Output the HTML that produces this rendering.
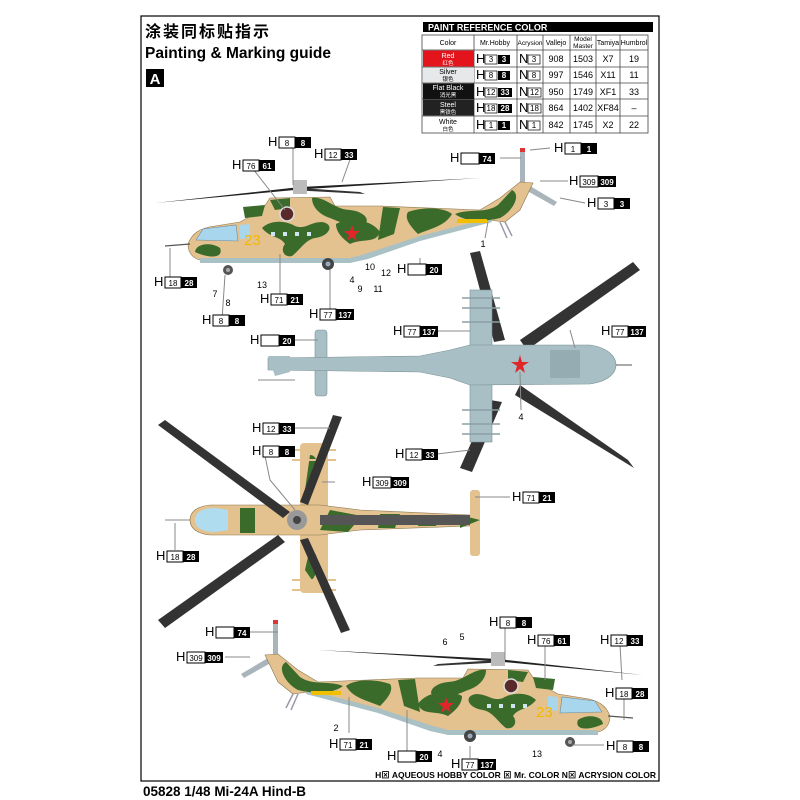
<!DOCTYPE html>
<html><head><meta charset="utf-8"><style>
html,body{margin:0;padding:0;background:#fff;}
svg{display:block;font-family:"Liberation Sans","Noto Sans CJK SC",sans-serif;}
.h{font-size:13px;fill:#000}
.n{font-size:8px;text-anchor:middle}
.w{font-size:8px;fill:#fff;text-anchor:middle;font-weight:bold}
.num{font-size:9px;text-anchor:middle}
.ld{stroke:#888;stroke-width:1;fill:none}
.tb{font-size:9px;text-anchor:middle}
</style></head><body>
<svg width="800" height="800" viewBox="0 0 800 800" xmlns="http://www.w3.org/2000/svg">
<rect x="141" y="16" width="518" height="765" fill="none" stroke="#000" stroke-width="1.2"/>
<text x="145" y="37" font-size="16" font-weight="bold" font-family="'Noto Sans CJK SC',sans-serif" letter-spacing="2">涂装同标贴指示</text>
<text x="145" y="58" font-size="15.5" font-weight="bold">Painting &amp; Marking guide</text>
<rect x="146" y="69" width="18" height="18" fill="#000"/>
<text x="155" y="84" font-size="15" font-weight="bold" fill="#fff" text-anchor="middle">A</text>

<!-- table -->
<rect x="423" y="22" width="230" height="10" fill="#000"/>
<text x="428" y="30.5" font-size="9" font-weight="bold" fill="#fff">PAINT  REFERENCE COLOR</text>
<g stroke="#444" stroke-width="0.8" fill="none">
<rect x="422" y="35" width="226" height="98"/>
<line x1="422" y1="50" x2="648" y2="50"/><line x1="422" y1="67" x2="648" y2="67"/><line x1="422" y1="83" x2="648" y2="83"/><line x1="422" y1="99" x2="648" y2="99"/><line x1="422" y1="116" x2="648" y2="116"/>
<line x1="474" y1="35" x2="474" y2="133"/><line x1="517" y1="35" x2="517" y2="133"/><line x1="543" y1="35" x2="543" y2="133"/><line x1="570" y1="35" x2="570" y2="133"/><line x1="596" y1="35" x2="596" y2="133"/><line x1="620" y1="35" x2="620" y2="133"/>
</g>
<rect x="423" y="50.5" width="51" height="16" fill="#e3141b"/>
<rect x="423" y="67.5" width="51" height="15" fill="#e6e8ea"/>
<rect x="423" y="83.5" width="51" height="15.5" fill="#111"/>
<rect x="423" y="99.5" width="51" height="16" fill="#222"/>
<g class="tb" font-size="7">
<text x="448" y="45" font-size="7">Color</text><text x="495" y="45" font-size="7">Mr.Hobby</text><text x="530" y="45" font-size="6.5">Acrysion</text><text x="556" y="45" font-size="7">Vallejo</text><text x="583" y="41" font-size="6.5">Model</text><text x="583" y="48" font-size="6.5">Master</text><text x="608" y="45" font-size="7">Tamiya</text><text x="634" y="45" font-size="7">Humbrol</text>
<text x="448" y="58" fill="#fff" font-size="7">Red</text><text x="448" y="65" fill="#fff" font-size="5.5">红色</text>
<text x="448" y="74" font-size="7">Silver</text><text x="448" y="81" font-size="5.5">银色</text>
<text x="448" y="90" fill="#fff" font-size="7">Flat Black</text><text x="448" y="97" fill="#fff" font-size="5.5">消光黑</text>
<text x="448" y="107" fill="#fff" font-size="7">Steel</text><text x="448" y="114" fill="#fff" font-size="5.5">黑铁色</text>
<text x="448" y="124" font-size="7">White</text><text x="448" y="131" font-size="5.5">白色</text>
</g>
<g font-size="9" text-anchor="middle">
<text x="556" y="62">908</text><text x="583" y="62">1503</text><text x="608" y="62">X7</text><text x="634" y="62">19</text>
<text x="556" y="78">997</text><text x="583" y="78">1546</text><text x="608" y="78">X11</text><text x="634" y="78">11</text>
<text x="556" y="95">950</text><text x="583" y="95">1749</text><text x="608" y="95">XF1</text><text x="634" y="95">33</text>
<text x="556" y="111">864</text><text x="583" y="111">1402</text><text x="608" y="111">XF84</text><text x="634" y="111">–</text>
<text x="556" y="128">842</text><text x="583" y="128">1745</text><text x="608" y="128">X2</text><text x="634" y="128">22</text>
</g>
<g font-size="11">
<g transform="translate(476,63)"><text class="h" font-size="11">H</text><rect x="9" y="-8" width="12" height="9" fill="#fff" stroke="#000" stroke-width=".7"/><text x="15" y="-1" class="n" font-size="7">3</text><rect x="22" y="-8" width="12" height="9"/><text x="28" y="-1" class="w" font-size="7">3</text></g>
<g transform="translate(476,79)"><text class="h" font-size="11">H</text><rect x="9" y="-8" width="12" height="9" fill="#fff" stroke="#000" stroke-width=".7"/><text x="15" y="-1" class="n" font-size="7">8</text><rect x="22" y="-8" width="12" height="9"/><text x="28" y="-1" class="w" font-size="7">8</text></g>
<g transform="translate(476,96)"><text class="h" font-size="11">H</text><rect x="9" y="-8" width="12" height="9" fill="#fff" stroke="#000" stroke-width=".7"/><text x="15" y="-1" class="n" font-size="7">12</text><rect x="22" y="-8" width="14" height="9"/><text x="29" y="-1" class="w" font-size="7">33</text></g>
<g transform="translate(476,112)"><text class="h" font-size="11">H</text><rect x="9" y="-8" width="12" height="9" fill="#fff" stroke="#000" stroke-width=".7"/><text x="15" y="-1" class="n" font-size="7">18</text><rect x="22" y="-8" width="14" height="9"/><text x="29" y="-1" class="w" font-size="7">28</text></g>
<g transform="translate(476,129)"><text class="h" font-size="11">H</text><rect x="9" y="-8" width="12" height="9" fill="#fff" stroke="#000" stroke-width=".7"/><text x="15" y="-1" class="n" font-size="7">1</text><rect x="22" y="-8" width="12" height="9"/><text x="28" y="-1" class="w" font-size="7">1</text></g>
<g transform="translate(519,63)"><text class="h" font-size="11">N</text><rect x="9" y="-8" width="12" height="9" fill="#fff" stroke="#000" stroke-width=".7"/><text x="15" y="-1" class="n" font-size="7">3</text></g>
<g transform="translate(519,79)"><text class="h" font-size="11">N</text><rect x="9" y="-8" width="12" height="9" fill="#fff" stroke="#000" stroke-width=".7"/><text x="15" y="-1" class="n" font-size="7">8</text></g>
<g transform="translate(519,96)"><text class="h" font-size="11">N</text><rect x="9" y="-8" width="13" height="9" fill="#fff" stroke="#000" stroke-width=".7"/><text x="15.5" y="-1" class="n" font-size="7">12</text></g>
<g transform="translate(519,112)"><text class="h" font-size="11">N</text><rect x="9" y="-8" width="13" height="9" fill="#fff" stroke="#000" stroke-width=".7"/><text x="15.5" y="-1" class="n" font-size="7">18</text></g>
<g transform="translate(519,129)"><text class="h" font-size="11">N</text><rect x="9" y="-8" width="12" height="9" fill="#fff" stroke="#000" stroke-width=".7"/><text x="15" y="-1" class="n" font-size="7">1</text></g>
</g>

<defs>
<g id="side">
  <path d="M155,203 L300,187 L480,178 L300,189.5 Z" fill="#222"/>
  <path d="M300,188 L360,192 L365,194 L300,190.5 Z" fill="#333"/>
  <rect x="293" y="180" width="14" height="14" fill="#bbb"/>
  <rect x="520" y="148" width="5" height="40" fill="#aab4bb"/>
  <rect x="520" y="148" width="5" height="4" fill="#d33"/>
  <path d="M525,183 L557,202 L554,206 L522,188 Z" fill="#aab4bb"/>
  <path d="M188,244 C192,233 200,228 215,226 L240,222 L262,210 L270,198 L330,197 L335,206 L380,206 L480,210 L500,198 L520,182 L533,183 L520,210 L505,222 L490,220 L420,238 L365,256 L350,260 L200,260 C192,258 188,252 188,244 Z" fill="#e3c28f" stroke="#8a7650" stroke-width="0.6"/>
  <path d="M200,258 L350,258 L365,254 L420,236 L490,218 L492,222 L420,241 L368,259 L350,263 L200,263 Z" fill="#a9c0c4"/>
  <path d="M262,228 C270,220 285,220 295,226 C305,230 310,222 322,222 C335,224 330,236 315,238 C305,240 300,250 292,256 C284,258 280,250 285,244 C280,236 270,238 262,228 Z" fill="#3a6b2b"/>
  <path d="M312,198 C325,196 335,210 350,210 C368,212 372,224 360,226 C348,226 340,222 330,218 C318,214 312,206 312,198 Z" fill="#3a6b2b"/>
  <path d="M336,224 C350,216 372,220 380,232 C376,244 362,238 350,244 C342,238 336,232 336,224 Z" fill="#3a6b2b"/>
  <path d="M383,207 L400,208 L394,234 L378,240 Z" fill="#3a6b2b"/>
  <path d="M408,212 C425,206 445,208 452,214 C445,226 432,228 418,234 C410,226 404,218 408,212 Z" fill="#3a6b2b"/>
  <path d="M455,214 C470,208 485,214 498,205 L512,190 C522,195 512,212 500,218 C485,222 465,222 455,214 Z" fill="#3a6b2b"/>
  <path d="M243,207 L265,205 L262,216 L245,218 Z" fill="#3a6b2b"/>
  <path d="M195,252 C196,243 212,242 220,248 C224,258 210,259 195,252 Z" fill="#3a6b2b"/>
  <path d="M270,200 L290,198 L290,208 L275,210 Z" fill="#3a6b2b"/>
  <path d="M196,240 L203,229 L236,225 L238,241 Z" fill="#a8d6ec" stroke="#6a8aa0" stroke-width=".6"/>
  <path d="M240,225 L250,224 L250,238 L240,239 Z" fill="#a8d6ec"/>
  <circle cx="287" cy="214" r="7" fill="#5a2a2a" stroke="#ddd" stroke-width="1.5"/>
  <g fill="#cfe6f0"><rect x="271" y="232" width="4" height="4"/><rect x="283" y="232" width="4" height="4"/><rect x="295" y="232" width="4" height="4"/><rect x="307" y="232" width="4" height="4"/></g>
  <path d="M352,225 L354,231 L360,231 L355,235 L357,241 L352,237 L347,241 L349,235 L344,231 L350,231 Z" fill="#e0262a"/>
  <rect x="457" y="219" width="30" height="4" fill="#f0c000"/>
  <circle cx="228" cy="270" r="5" fill="#555"/><circle cx="228" cy="270" r="2" fill="#aaa"/>
  <circle cx="328" cy="264" r="6" fill="#444"/><circle cx="328" cy="264" r="2.5" fill="#9ab"/>
  <path d="M500,222 L507,238 M505,222 L512,236" stroke="#99a" stroke-width="1.5"/>
  <line x1="165" y1="246" x2="190" y2="244" stroke="#555" stroke-width="1.2"/>
</g>
</defs>

<use href="#side"/>
<use href="#side" transform="translate(798,472) scale(-1,1)"/>
<text x="244" y="245" font-size="15" fill="#f2b800">23</text>
<text x="536" y="717" font-size="15" fill="#f2b800">23</text>

<!-- grey top view -->
<g>
  <path d="M470,253 L480,251 L505,340 L494,342 Z" fill="#333"/>
  <path d="M520,340 L633,262 L640,270 L527,350 Z" fill="#333"/>
  <path d="M520,385 L628,460 L634,468 L515,395 Z" fill="#333"/>
  <path d="M490,400 L502,402 L472,472 L460,468 Z" fill="#333"/>
  <rect x="470" y="290" width="22" height="152" fill="#a8c0c5" stroke="#7a9095" stroke-width=".6"/>
  <g stroke="#8aa0a6" stroke-width="1.5"><line x1="462" y1="298" x2="500" y2="298"/><line x1="462" y1="308" x2="500" y2="308"/><line x1="462" y1="322" x2="500" y2="322"/><line x1="462" y1="410" x2="500" y2="410"/><line x1="462" y1="424" x2="500" y2="424"/><line x1="462" y1="434" x2="500" y2="434"/></g>
  <rect x="315" y="330" width="12" height="66" rx="3" fill="#a8c0c5" stroke="#7a9095" stroke-width=".6"/>
  <path d="M268,358 L420,356 L450,350 L470,345 L590,345 C610,348 616,358 616,365 C616,372 610,381 590,384 L470,385 L450,378 L420,372 L268,370 Z" fill="#a8c0c5" stroke="#7a9095" stroke-width=".6"/>
  <path d="M268,356 L290,356 L290,372 L275,376 Z" fill="#a8c0c5"/>
  <rect x="550" y="350" width="30" height="28" fill="#95adb2"/>
  <path d="M520,355 L522,362 L529,362 L523,366 L525,373 L520,369 L515,373 L517,366 L511,362 L518,362 Z" fill="#e0262a"/>
  <line x1="616" y1="365" x2="632" y2="365" stroke="#555"/>
  <line x1="258" y1="380" x2="295" y2="380" stroke="#888"/>
</g>

<!-- camo top view -->
<g>
  <rect x="300" y="443" width="28" height="150" rx="4" fill="#e3c28f"/>
  <path d="M310,455 C320,455 320,475 312,492 L305,490 Z" fill="#3a6b2b"/>
  <path d="M310,548 C320,555 320,570 312,580 L305,570 Z" fill="#3a6b2b"/>
  <g stroke="#e3c28f" stroke-width="2"><line x1="292" y1="450" x2="336" y2="450"/><line x1="292" y1="460" x2="336" y2="460"/><line x1="292" y1="580" x2="336" y2="580"/><line x1="292" y1="590" x2="336" y2="590"/></g>
  <path d="M190,520 C190,510 200,506 210,505 L320,505 L360,510 L470,515 L470,526 L360,530 L320,535 L210,535 C200,534 190,530 190,520 Z" fill="#e3c28f" stroke="#8a7650" stroke-width=".6"/>
  <path d="M195,520 C195,512 203,508 215,508 L228,510 L228,530 L215,532 C203,532 195,528 195,520 Z" fill="#b0dcef"/>
  <path d="M240,508 L255,508 L255,533 L240,533 Z" fill="#3a6b2b"/>
  <path d="M330,510 L362,516 L348,532 L320,530 Z" fill="#3a6b2b"/>
  <path d="M380,514 L400,514 L395,528 L378,528 Z" fill="#3a6b2b"/>
  <path d="M420,516 L440,516 L436,526 L418,526 Z" fill="#3a6b2b"/>
  <rect x="470" y="490" width="10" height="66" rx="3" fill="#e3c28f"/>
  <path d="M460,515 L480,520 L460,528 Z" fill="#3a6b2b"/>
  <rect x="320" y="515" width="150" height="10" fill="#555"/>
  <path d="M158,425 L165,420 L290,512 L283,518 Z" fill="#333"/>
  <path d="M333,415 L342,417 L308,505 L300,502 Z" fill="#333"/>
  <path d="M165,628 L158,620 L278,535 L285,542 Z" fill="#333"/>
  <path d="M300,540 L308,538 L350,630 L341,633 Z" fill="#333"/>
  <circle cx="297" cy="520" r="10" fill="#999"/><circle cx="297" cy="520" r="4" fill="#444"/>
  <line x1="165" y1="520" x2="190" y2="520" stroke="#888"/>
</g>

<g class="ld">
<path d="M293,141 L293,185"/><path d="M250,165 L285,210"/><path d="M352,154 L342,182"/><path d="M170,281 L170,248"/><path d="M280,299 L280,254"/><path d="M222,320 L225,275"/><path d="M330,314 L330,270"/><path d="M420,269 L420,258"/><path d="M500,158 L521,158"/><path d="M530,150 L550,148"/><path d="M540,181 L568,181"/><path d="M560,198 L585,203"/><path d="M485,238 L488,222"/>
<path d="M293,340 L318,340"/><path d="M435,331 L470,331"/><path d="M570,330 L575,348"/><path d="M521,410 L520,372"/><path d="M437,454 L470,450"/>
<path d="M293,428 L330,428"/><path d="M265,456 L270,480 L295,510"/><path d="M335,482 L322,482"/><path d="M475,497 L510,497"/><path d="M175,550 L175,523"/>
<path d="M245,632 L278,632"/><path d="M225,657 L250,657"/><path d="M505,626 L505,660"/><path d="M545,645 L545,680"/><path d="M620,645 L622,680"/><path d="M624,697 L624,720"/><path d="M572,745 L604,745"/><path d="M349,733 L349,697"/><path d="M407,751 L407,710"/><path d="M470,758 L470,746"/>
</g>

<g id="labels">
<g transform="translate(268,146)"><text class="h">H</text><rect x="11" y="-9" width="16" height="11" fill="#fff" stroke="#000"/><text x="19" y="0" class="n">8</text><rect x="27" y="-9" width="16" height="11"/><text x="35" y="0" class="w">8</text></g>
<g transform="translate(232,169)"><text class="h">H</text><rect x="11" y="-9" width="16" height="11" fill="#fff" stroke="#000"/><text x="19" y="0" class="n">76</text><rect x="27" y="-9" width="16" height="11"/><text x="35" y="0" class="w">61</text></g>
<g transform="translate(314,158)"><text class="h">H</text><rect x="11" y="-9" width="16" height="11" fill="#fff" stroke="#000"/><text x="19" y="0" class="n">12</text><rect x="27" y="-9" width="16" height="11"/><text x="35" y="0" class="w">33</text></g>
<g transform="translate(154,286)"><text class="h">H</text><rect x="11" y="-9" width="16" height="11" fill="#fff" stroke="#000"/><text x="19" y="0" class="n">18</text><rect x="27" y="-9" width="16" height="11"/><text x="35" y="0" class="w">28</text></g>
<g transform="translate(260,303)"><text class="h">H</text><rect x="11" y="-9" width="16" height="11" fill="#fff" stroke="#000"/><text x="19" y="0" class="n">71</text><rect x="27" y="-9" width="16" height="11"/><text x="35" y="0" class="w">21</text></g>
<g transform="translate(202,324)"><text class="h">H</text><rect x="11" y="-9" width="16" height="11" fill="#fff" stroke="#000"/><text x="19" y="0" class="n">8</text><rect x="27" y="-9" width="16" height="11"/><text x="35" y="0" class="w">8</text></g>
<g transform="translate(309,318)"><text class="h">H</text><rect x="11" y="-9" width="16" height="11" fill="#fff" stroke="#000"/><text x="19" y="0" class="n">77</text><rect x="27" y="-9" width="18" height="11"/><text x="36" y="0" class="w">137</text></g>
<g transform="translate(397,273)"><text class="h">H</text><rect x="11" y="-9" width="18" height="11" fill="#fff" stroke="#000"/><rect x="29" y="-9" width="16" height="11"/><text x="37" y="0" class="w">20</text></g>
<g transform="translate(450,162)"><text class="h">H</text><rect x="11" y="-9" width="18" height="11" fill="#fff" stroke="#000"/><rect x="29" y="-9" width="16" height="11"/><text x="37" y="0" class="w">74</text></g>
<g transform="translate(554,152)"><text class="h">H</text><rect x="11" y="-9" width="16" height="11" fill="#fff" stroke="#000"/><text x="19" y="0" class="n">1</text><rect x="27" y="-9" width="16" height="11"/><text x="35" y="0" class="w">1</text></g>
<g transform="translate(569,185)"><text class="h">H</text><rect x="11" y="-9" width="18" height="11" fill="#fff" stroke="#000"/><text x="20" y="0" class="n">309</text><rect x="29" y="-9" width="18" height="11"/><text x="38" y="0" class="w">309</text></g>
<g transform="translate(587,207)"><text class="h">H</text><rect x="11" y="-9" width="16" height="11" fill="#fff" stroke="#000"/><text x="19" y="0" class="n">3</text><rect x="27" y="-9" width="16" height="11"/><text x="35" y="0" class="w">3</text></g>

<g transform="translate(250,344)"><text class="h">H</text><rect x="11" y="-9" width="18" height="11" fill="#fff" stroke="#000"/><rect x="29" y="-9" width="16" height="11"/><text x="37" y="0" class="w">20</text></g>
<g transform="translate(393,335)"><text class="h">H</text><rect x="11" y="-9" width="16" height="11" fill="#fff" stroke="#000"/><text x="19" y="0" class="n">77</text><rect x="27" y="-9" width="18" height="11"/><text x="36" y="0" class="w">137</text></g>
<g transform="translate(601,335)"><text class="h">H</text><rect x="11" y="-9" width="16" height="11" fill="#fff" stroke="#000"/><text x="19" y="0" class="n">77</text><rect x="27" y="-9" width="18" height="11"/><text x="36" y="0" class="w">137</text></g>
<g transform="translate(395,458)"><text class="h">H</text><rect x="11" y="-9" width="16" height="11" fill="#fff" stroke="#000"/><text x="19" y="0" class="n">12</text><rect x="27" y="-9" width="16" height="11"/><text x="35" y="0" class="w">33</text></g>

<g transform="translate(252,432)"><text class="h">H</text><rect x="11" y="-9" width="16" height="11" fill="#fff" stroke="#000"/><text x="19" y="0" class="n">12</text><rect x="27" y="-9" width="16" height="11"/><text x="35" y="0" class="w">33</text></g>
<g transform="translate(252,455)"><text class="h">H</text><rect x="11" y="-9" width="16" height="11" fill="#fff" stroke="#000"/><text x="19" y="0" class="n">8</text><rect x="27" y="-9" width="16" height="11"/><text x="35" y="0" class="w">8</text></g>
<g transform="translate(362,486)"><text class="h">H</text><rect x="11" y="-9" width="18" height="11" fill="#fff" stroke="#000"/><text x="20" y="0" class="n">309</text><rect x="29" y="-9" width="18" height="11"/><text x="38" y="0" class="w">309</text></g>
<g transform="translate(512,501)"><text class="h">H</text><rect x="11" y="-9" width="16" height="11" fill="#fff" stroke="#000"/><text x="19" y="0" class="n">71</text><rect x="27" y="-9" width="16" height="11"/><text x="35" y="0" class="w">21</text></g>
<g transform="translate(156,560)"><text class="h">H</text><rect x="11" y="-9" width="16" height="11" fill="#fff" stroke="#000"/><text x="19" y="0" class="n">18</text><rect x="27" y="-9" width="16" height="11"/><text x="35" y="0" class="w">28</text></g>

<g transform="translate(205,636)"><text class="h">H</text><rect x="11" y="-9" width="18" height="11" fill="#fff" stroke="#000"/><rect x="29" y="-9" width="16" height="11"/><text x="37" y="0" class="w">74</text></g>
<g transform="translate(176,661)"><text class="h">H</text><rect x="11" y="-9" width="18" height="11" fill="#fff" stroke="#000"/><text x="20" y="0" class="n">309</text><rect x="29" y="-9" width="18" height="11"/><text x="38" y="0" class="w">309</text></g>
<g transform="translate(489,626)"><text class="h">H</text><rect x="11" y="-9" width="16" height="11" fill="#fff" stroke="#000"/><text x="19" y="0" class="n">8</text><rect x="27" y="-9" width="16" height="11"/><text x="35" y="0" class="w">8</text></g>
<g transform="translate(527,644)"><text class="h">H</text><rect x="11" y="-9" width="16" height="11" fill="#fff" stroke="#000"/><text x="19" y="0" class="n">76</text><rect x="27" y="-9" width="16" height="11"/><text x="35" y="0" class="w">61</text></g>
<g transform="translate(600,644)"><text class="h">H</text><rect x="11" y="-9" width="16" height="11" fill="#fff" stroke="#000"/><text x="19" y="0" class="n">12</text><rect x="27" y="-9" width="16" height="11"/><text x="35" y="0" class="w">33</text></g>
<g transform="translate(605,697)"><text class="h">H</text><rect x="11" y="-9" width="16" height="11" fill="#fff" stroke="#000"/><text x="19" y="0" class="n">18</text><rect x="27" y="-9" width="16" height="11"/><text x="35" y="0" class="w">28</text></g>
<g transform="translate(606,750)"><text class="h">H</text><rect x="11" y="-9" width="16" height="11" fill="#fff" stroke="#000"/><text x="19" y="0" class="n">8</text><rect x="27" y="-9" width="16" height="11"/><text x="35" y="0" class="w">8</text></g>
<g transform="translate(329,748)"><text class="h">H</text><rect x="11" y="-9" width="16" height="11" fill="#fff" stroke="#000"/><text x="19" y="0" class="n">71</text><rect x="27" y="-9" width="16" height="11"/><text x="35" y="0" class="w">21</text></g>
<g transform="translate(387,760)"><text class="h">H</text><rect x="11" y="-9" width="18" height="11" fill="#fff" stroke="#000"/><rect x="29" y="-9" width="16" height="11"/><text x="37" y="0" class="w">20</text></g>
<g transform="translate(451,768)"><text class="h">H</text><rect x="11" y="-9" width="16" height="11" fill="#fff" stroke="#000"/><text x="19" y="0" class="n">77</text><rect x="27" y="-9" width="18" height="11"/><text x="36" y="0" class="w">137</text></g>
</g>

<g class="num">
<text x="483" y="247">1</text><text x="352" y="283">4</text><text x="360" y="292">9</text><text x="370" y="270">10</text><text x="378" y="292">11</text><text x="386" y="276">12</text><text x="215" y="297">7</text><text x="228" y="306">8</text><text x="262" y="288">13</text>
<text x="521" y="420">4</text>
<text x="445" y="645">6</text><text x="462" y="640">5</text><text x="336" y="731">2</text><text x="440" y="757">4</text><text x="537" y="757">13</text>
</g>

<text x="656" y="778" font-size="8.5" font-weight="bold" text-anchor="end">H⊠ AQUEOUS HOBBY COLOR   ⊠ Mr. COLOR  N⊠ ACRYSION COLOR</text>
<text x="143" y="796" font-size="13.5" font-weight="bold">05828 1/48  Mi-24A Hind-B</text>
</svg>
</body></html>
